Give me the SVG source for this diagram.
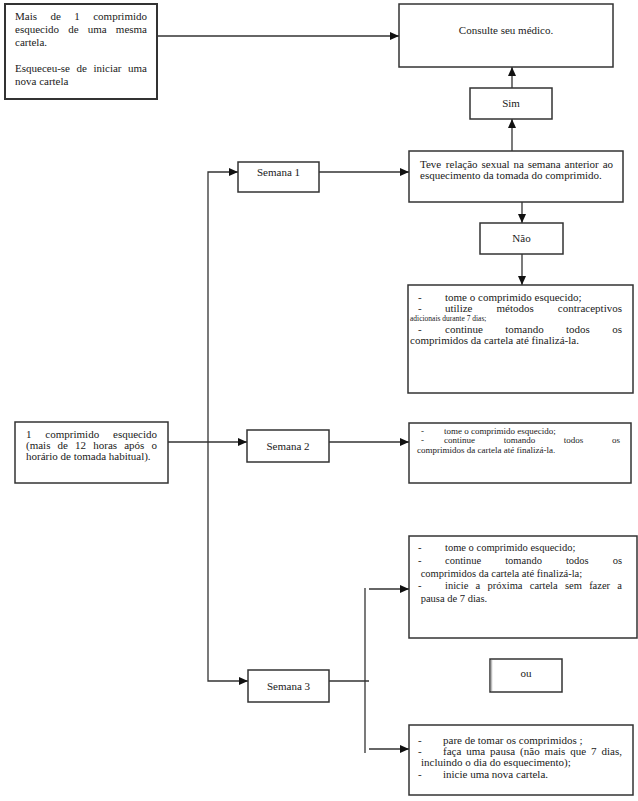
<svg xmlns="http://www.w3.org/2000/svg" width="638" height="801" viewBox="0 0 638 801" font-family="'Liberation Serif', 'Times New Roman', serif">
<style>
.b{fill:#fff;stroke:#333;stroke-width:1.5}
.t{font-family:'Liberation Serif','Times New Roman',serif;font-size:11px;fill:#1a1a1a}
.c{text-anchor:middle}
.s9{font-size:9px}
.s105{font-size:10.5px}
.s75{font-size:7.5px}
.ln{fill:none;stroke:#333;stroke-width:1.3}
</style>
<defs>
<marker id="ah" markerUnits="userSpaceOnUse" markerWidth="9" markerHeight="8" refX="9" refY="4" orient="auto">
<path d="M0,0 L9,4 L0,8 z" fill="#111"/>
</marker>
</defs>
<rect width="638" height="801" fill="#fff"/>
<g id="connectors">
<path class="ln" d="M157,36 H399" marker-end="url(#ah)"/>
<path class="ln" d="M512,88 V67" marker-end="url(#ah)"/>
<path class="ln" d="M512,151 V119" marker-end="url(#ah)"/>
<path class="ln" d="M319,172 H409" marker-end="url(#ah)"/>
<path class="ln" d="M522,202 V223" marker-end="url(#ah)"/>
<path class="ln" d="M522,254 V285" marker-end="url(#ah)"/>
<path class="ln" d="M208,442 V172 H238" marker-end="url(#ah)"/>
<path class="ln" d="M208,442 V681 H248" marker-end="url(#ah)"/>
<path class="ln" d="M168,442 H247" marker-end="url(#ah)"/>
<path class="ln" d="M329,442 H409" marker-end="url(#ah)"/>
<path class="ln" d="M329,681 H369"/>
<path class="ln" d="M365,588 V753"/>
<path class="ln" d="M369,589 H409" marker-end="url(#ah)"/>
<path class="ln" d="M369,749 H409" marker-end="url(#ah)"/>
</g>
<g id="box1">
<rect class="b" x="5" y="4" width="152" height="95" style="stroke-width:2"/>
<text class="t" y="20"><tspan x="15">Mais</tspan><tspan x="50.45">de</tspan><tspan x="74.28">1</tspan><tspan x="93.23">comprimido</tspan></text>
<text class="t" y="33"><tspan x="15">esquecido</tspan><tspan x="68.17">de</tspan><tspan x="87.73">uma</tspan><tspan x="115.85">mesma</tspan></text>
<text class="t" x="15" y="46">cartela.</text>
<text class="t" y="72"><tspan x="15">Esqueceu-se</tspan><tspan x="76.51">de</tspan><tspan x="93.42">iniciar</tspan><tspan x="128.05">uma</tspan></text>
<text class="t" x="15" y="85">nova cartela</text>
</g>
<g id="consulte">
<rect class="b" x="399" y="4" width="214" height="63"/>
<text class="t c" x="506" y="34">Consulte seu médico.</text>
</g>
<g id="sim">
<rect class="b" x="470" y="88" width="82" height="31"/>
<text class="t c" x="511" y="107">Sim</text>
</g>
<g id="semana1">
<rect class="b" x="238" y="162" width="81" height="30"/>
<text class="t c" x="278.5" y="176">Semana 1</text>
</g>
<g id="teve">
<rect class="b" x="409" y="151" width="214" height="51"/>
<text class="t" y="168"><tspan x="420">Teve</tspan><tspan x="445.86">relação</tspan><tspan x="481.49">sexual</tspan><tspan x="513.46">na</tspan><tspan x="527.71">semana</tspan><tspan x="564.57">anterior</tspan><tspan x="602.65">ao</tspan></text>
<text class="t" x="420" y="179">esquecimento da tomada do comprimido.</text>
</g>
<g id="nao">
<rect class="b" x="480" y="223" width="83" height="31"/>
<text class="t c" x="521.5" y="242">Não</text>
</g>
<g id="semana1-nao">
<rect class="b" x="408" y="285" width="225" height="108"/>
<text class="t" y="301"><tspan x="418">-</tspan><tspan x="445">tome o comprimido esquecido;</tspan></text>
<text class="t" y="311.5"><tspan x="418">-</tspan><tspan x="445">utilize</tspan><tspan x="496.53">métodos</tspan><tspan x="557.84">contraceptivos</tspan></text>
<text class="t s75" x="410" y="321">adicionais durante 7 dias;</text>
<text class="t" y="332.5"><tspan x="418">-</tspan><tspan x="445">continue</tspan><tspan x="505.21">tomando</tspan><tspan x="566.04">todos</tspan><tspan x="612.21">os</tspan></text>
<text class="t" x="410" y="344">comprimidos da cartela até finalizá-la.</text>
</g>
<g id="esquecido">
<rect class="b" x="15" y="422" width="153" height="61"/>
<text class="t" y="438"><tspan x="26">1</tspan><tspan x="45.37">comprimido</tspan><tspan x="113.01">esquecido</tspan></text>
<text class="t" y="449"><tspan x="26">(mais</tspan><tspan x="57.58">de</tspan><tspan x="75.1">12</tspan><tspan x="93.24">horas</tspan><tspan x="124.21">após</tspan><tspan x="151.51">o</tspan></text>
<text class="t" x="26" y="460">horário de tomada habitual).</text>
</g>
<g id="semana2">
<rect class="b" x="247" y="430" width="82" height="32"/>
<text class="t c" x="288" y="450">Semana 2</text>
</g>
<g id="semana2-acao">
<rect class="b" x="409" y="423" width="222" height="60"/>
<text class="t s9" y="434"><tspan x="421">-</tspan><tspan x="444">tome o comprimido esquecido;</tspan></text>
<text class="t s9" y="443"><tspan x="421">-</tspan><tspan x="444">continue</tspan><tspan x="503.67">tomando</tspan><tspan x="563.84">todos</tspan><tspan x="612">os</tspan></text>
<text class="t s9" x="417" y="452.5">comprimidos da cartela até finalizá-la.</text>
</g>
<g id="semana3">
<rect class="b" x="248" y="670" width="81" height="32"/>
<text class="t c" x="288.5" y="690">Semana 3</text>
</g>
<g id="semana3-opcao1">
<rect class="b" x="409" y="536" width="228" height="102"/>
<text class="t s105" y="551"><tspan x="418">-</tspan><tspan x="445">tome o comprimido esquecido;</tspan></text>
<text class="t s105" y="564"><tspan x="418">-</tspan><tspan x="445">continue</tspan><tspan x="505.16">tomando</tspan><tspan x="565.91">todos</tspan><tspan x="612.66">os</tspan></text>
<text class="t s105" x="420.7" y="576.5">comprimidos da cartela até finalizá-la;</text>
<text class="t s105" y="589"><tspan x="418">-</tspan><tspan x="445">inicie</tspan><tspan x="475.58">a</tspan><tspan x="487.49">próxima</tspan><tspan x="529.73">cartela</tspan><tspan x="564.96">sem</tspan><tspan x="589.13">fazer</tspan><tspan x="617.35">a</tspan></text>
<text class="t s105" x="420.7" y="601.5">pausa de 7 dias.</text>
</g>
<g id="ou">
<rect class="b" x="490" y="659" width="72" height="33"/>
<line x1="491.5" y1="660" x2="491.5" y2="691" stroke="#bbb" stroke-width="1.5"/>
<text class="t c" x="526" y="677">ou</text>
</g>
<g id="semana3-opcao2">
<rect class="b" x="409" y="725" width="224" height="70"/>
<text class="t" y="744"><tspan x="418">-</tspan><tspan x="443">pare de tomar os comprimidos ;</tspan></text>
<text class="t" y="754.5"><tspan x="418">-</tspan><tspan x="443">faça</tspan><tspan x="466.25">uma</tspan><tspan x="490.12">pausa</tspan><tspan x="520.1">(não</tspan><tspan x="544.58">mais</tspan><tspan x="570.29">que</tspan><tspan x="591.1">7</tspan><tspan x="601.53">dias,</tspan></text>
<text class="t" x="421" y="766">incluindo o dia do esquecimento);</text>
<text class="t" y="778"><tspan x="418">-</tspan><tspan x="443">inicie uma nova cartela.</tspan></text>
</g>
</svg>
